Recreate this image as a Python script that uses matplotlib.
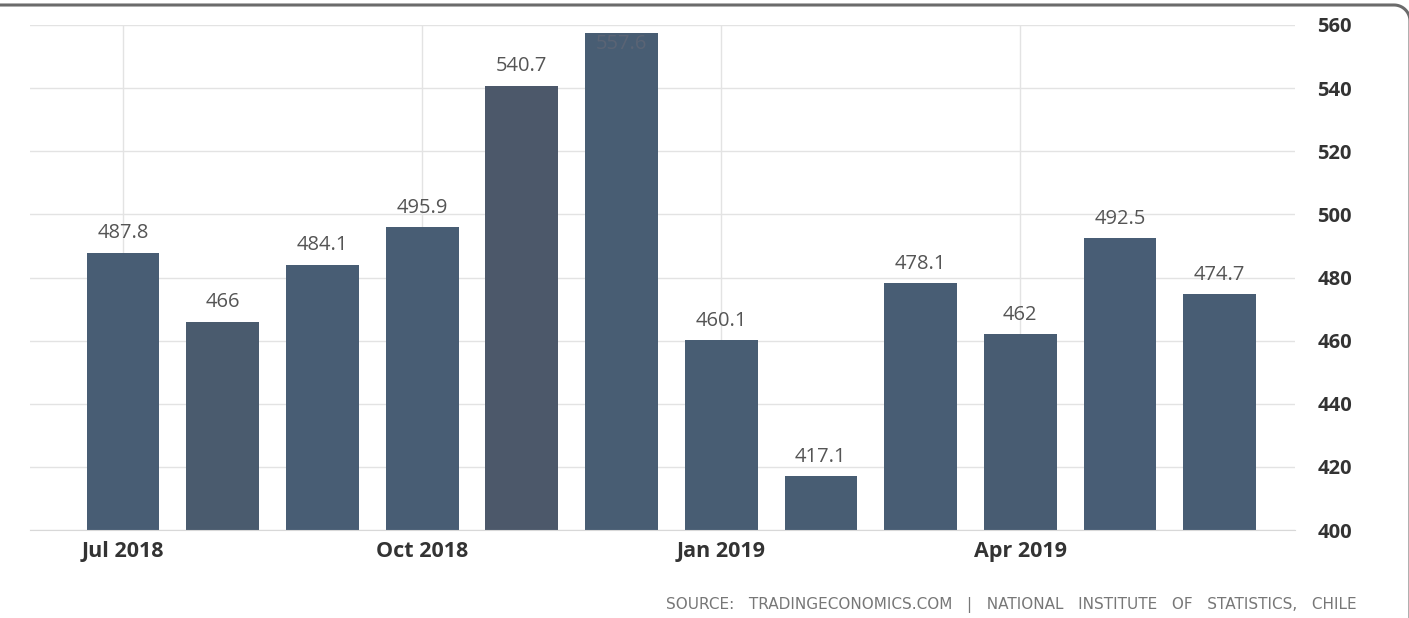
import matplotlib
matplotlib.use("Agg")
import matplotlib.pyplot as plt
import numpy as np
from matplotlib.lines import Line2D

# monthly values, Jul 2018 .. Jun 2019
months = ["Jul 2018", "Aug 2018", "Sep 2018", "Oct 2018", "Nov 2018", "Dec 2018",
          "Jan 2019", "Feb 2019", "Mar 2019", "Apr 2019", "May 2019", "Jun 2019"]
values = [487.8, 466, 484.1, 495.9, 540.7, 557.6,
          460.1, 417.1, 478.1, 462, 492.5, 474.7]
labels = ["487.8", "466", "484.1", "495.9", "540.7", "557.6",
          "460.1", "417.1", "478.1", "462", "492.5", "474.7"]
bar_colors = ["#485d74", "#4a5b6e", "#485d74", "#485d74", "#4c586a", "#485d73",
              "#485d73", "#485d73", "#485d74", "#485c72", "#485d75", "#485d74"]
tick_idx = [0, 3, 6, 9]
yticks = [400, 420, 440, 460, 480, 500, 520, 540, 560]
source = "SOURCE:   TRADINGECONOMICS.COM   |   NATIONAL   INSTITUTE   OF   STATISTICS,   CHILE"

plt.rcParams['font.family'] = ['Open Sans', 'DejaVu Sans']

W, H = 1409, 618
fig = plt.figure(figsize=(W / 100, H / 100), dpi=100)
ax = fig.add_axes([30 / W, 1 - 530 / H, 1265 / W, 505 / H])

x = list(range(len(values)))
ax.bar(x, [v - 400 for v in values], bottom=400, width=0.73, color=bar_colors, zorder=3)

ax.set_ylim(400, 560)
ax.set_xlim(-0.933, 11.755)

# value labels, clamped inside the plot area
for i, v in enumerate(values):
    y = v + 3.0
    if y + 6 > 560:
        ax.text(i, 557.2, labels[i], ha="center", va="top", fontsize=14.5,
                color="#5a6475", zorder=4)
    else:
        ax.text(i, y, labels[i], ha="center", va="bottom", fontsize=14.5,
                color="#555555", zorder=4)

ax.set_yticks(yticks)
ax.yaxis.tick_right()
ax.tick_params(axis="y", length=0, pad=16, labelsize=14.5, labelcolor="#333333")
for t in ax.get_yticklabels():
    t.set_fontweight("bold")
ax.grid(axis="y", color="#e3e3e3", lw=1, zorder=0)

ax.set_xticks(tick_idx)
ax.set_xticklabels([months[i] for i in tick_idx], fontsize=15.5, color="#333333",
                   fontweight="bold")
ax.tick_params(axis="x", length=0, pad=8)
ax.grid(axis="x", color="#e3e3e3", lw=1, zorder=0)

for s in ["top", "right", "left"]:
    ax.spines[s].set_visible(False)
ax.spines["bottom"].set_color("#d8d8d8")
ax.spines["bottom"].set_zorder(5)

fig.text(1357 / W, 1 - 605 / H, source, ha="right", va="center",
         fontsize=11, color="#777777", family="DejaVu Sans")

# rounded top frame (pixel coords)
r = 16
top = H - 5
cx, cy = W + 1 - r, top - r
ang = np.linspace(np.pi / 2, 0, 20)
fx = np.concatenate([[-5], cx + r * np.cos(ang), [W + 1]])
fy = np.concatenate([[top], cy + r * np.sin(ang), [-5]])
fig.lines.append(Line2D(fx / W, fy / H, transform=fig.transFigure,
                        color="#6b6b6b", lw=2.2))

fig.savefig("out.png", dpi=100)
